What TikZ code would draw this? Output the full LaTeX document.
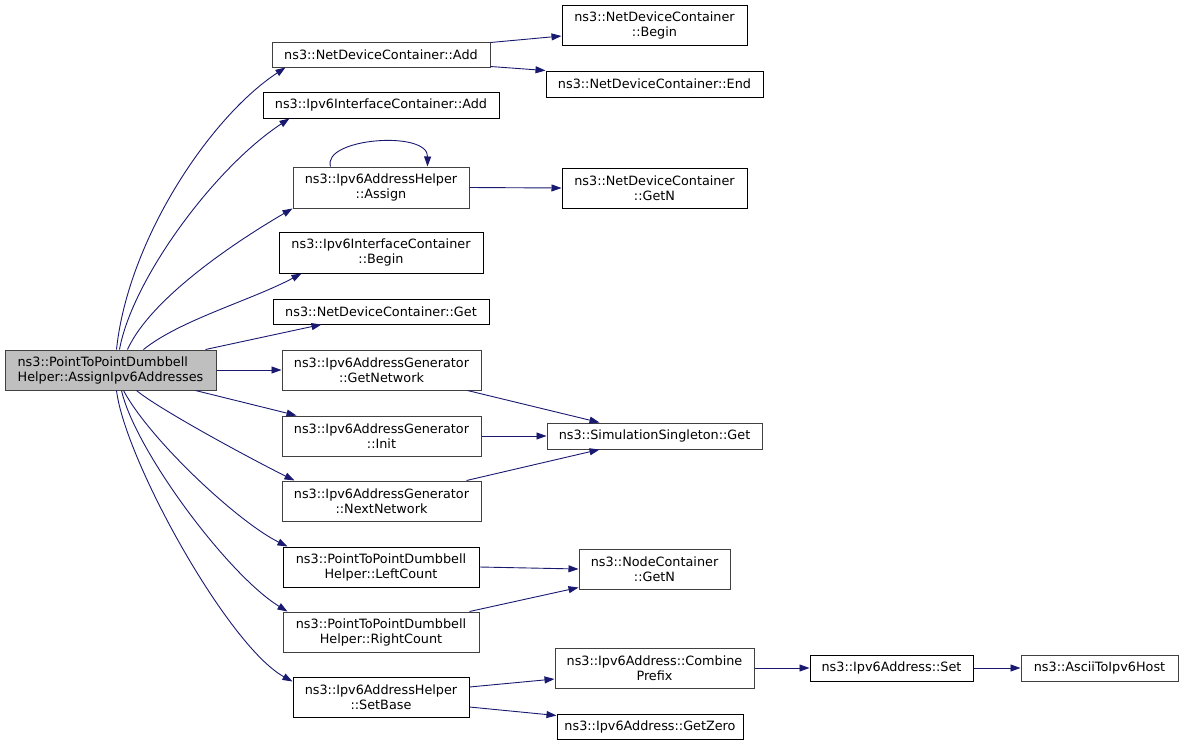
\documentclass[tikz,border=0pt]{standalone}
\usepackage{fontspec}
\setmainfont{DejaVu Sans}
\usetikzlibrary{arrows.meta,calc}
\definecolor{edgecol}{HTML}{191970}
\definecolor{bgray}{HTML}{404040}
\definecolor{mainfill}{HTML}{BFBFBF}
\begin{document}
\begin{tikzpicture}[x=1pt,y=-1pt,
  font=\fontsize{12.8}{15}\selectfont,
  box/.style={draw=black, line width=1pt, fill=white, inner sep=0pt, align=center},
  gbox/.style={box, draw=bgray},
  call/.style={draw=edgecol, line width=0.9pt, -{Triangle[length=10pt,width=7pt]}}]
\useasboundingbox (0,0) rectangle (1184,745);

% left column
\node[gbox, fill=mainfill, align=left, minimum width=211pt, minimum height=40pt] (main) at (110.5,370) {ns3::PointToPointDumbbell\\Helper::AssignIpv6Addresses};
\node[gbox, minimum width=218pt, minimum height=25pt] (add) at (381,54.5) {ns3::NetDeviceContainer::Add};
\node[box, minimum width=236pt, minimum height=26pt] (ifadd) at (381,105) {ns3::Ipv6InterfaceContainer::Add};
\node[gbox, minimum width=176pt, minimum height=41pt] (assign) at (381,187.5) {ns3::Ipv6AddressHelper\\::Assign};
\node[box, minimum width=204pt, minimum height=41pt] (ifbegin) at (381,252.5) {ns3::Ipv6InterfaceContainer\\::Begin};
\node[box, minimum width=216pt, minimum height=25pt] (ndget) at (381,311.5) {ns3::NetDeviceContainer::Get};
\node[gbox, minimum width=199pt, minimum height=40pt] (getnet) at (381.5,370) {ns3::Ipv6AddressGenerator\\::GetNetwork};
\node[gbox, minimum width=199pt, minimum height=40pt] (init) at (381.5,436) {ns3::Ipv6AddressGenerator\\::Init};
\node[gbox, minimum width=199pt, minimum height=40pt] (nextnet) at (381.5,501) {ns3::Ipv6AddressGenerator\\::NextNetwork};
\node[box, minimum width=196pt, minimum height=40pt] (left) at (381,567) {ns3::PointToPointDumbbell\\Helper::LeftCount};
\node[gbox, minimum width=196pt, minimum height=40pt] (right) at (381,632) {ns3::PointToPointDumbbell\\Helper::RightCount};
\node[box, minimum width=176pt, minimum height=40pt] (setbase) at (381,697) {ns3::Ipv6AddressHelper\\::SetBase};

% right column
\node[box, minimum width=185pt, minimum height=40pt] (ndbegin) at (654.5,25) {ns3::NetDeviceContainer\\::Begin};
\node[box, minimum width=217pt, minimum height=26pt] (ndend) at (654.5,84) {ns3::NetDeviceContainer::End};
\node[box, minimum width=185pt, minimum height=40pt] (ndgetn) at (654.5,188) {ns3::NetDeviceContainer\\::GetN};
\node[gbox, minimum width=215pt, minimum height=26pt] (sim) at (654.5,436) {ns3::SimulationSingleton::Get};
\node[gbox, minimum width=151pt, minimum height=40pt] (ncgetn) at (654.5,569) {ns3::NodeContainer\\::GetN};
\node[gbox, minimum width=199pt, minimum height=40pt] (combine) at (654.5,668) {ns3::Ipv6Address::Combine\\Prefix};
\node[box, minimum width=186pt, minimum height=25pt] (getzero) at (650,726.5) {ns3::Ipv6Address::GetZero};
\node[box, minimum width=163pt, minimum height=26pt] (set) at (891.5,668) {ns3::Ipv6Address::Set};
\node[gbox, minimum width=157pt, minimum height=26pt] (ascii) at (1099.5,668) {ns3::AsciiToIpv6Host};

% edges from main
\draw[call] ($(main.north west)+(112,0)$) .. controls (128,240) and (210,117) .. ($(add.south west)+(14,0)$);
\draw[call] ($(main.north west)+(115,0)$) .. controls (132,280) and (214,168) .. ($(ifadd.south west)+(27,0)$);
\draw[call] ($(main.north west)+(123,0)$) .. controls (150,300) and (230,245) .. (assign.south west);
\draw[call] ($(main.north west)+(139,0)$) .. controls (180,320) and (252,300) .. ($(ifbegin.south west)+(23,0)$);
\draw[call] ($(main.north east)+(-11,0)$) -- ($(ndget.south west)+(49,0)$);
\draw[call] (main.east) -- (getnet.west);
\draw[call] ($(main.south east)+(-21,0)$) -- ($(init.north west)+(15,0)$);
\draw[call] ($(main.south west)+(132,0)$) .. controls (160,410) and (255,461) .. ($(nextnet.north west)+(13,0)$);
\draw[call] ($(main.south west)+(119,0)$) .. controls (150,440) and (238,522) .. ($(left.north west)+(5,0)$);
\draw[call] ($(main.south west)+(117,0)$) .. controls (135,450) and (228,575) .. ($(right.north west)+(5,0)$);
\draw[call] ($(main.south west)+(112,0)$) .. controls (125,460) and (228,646) .. ($(setbase.north west)+(0,5)$);

% other edges
\draw[call] ($(add.north east)+(0,1)$) -- ($(ndbegin.west)+(0,11)$);
\draw[call] ($(add.south east)+(0,-1)$) -- (ndend.north west);
\draw[call] ($(assign.north west)+(38,0)$) .. controls (322,138) and (428,130) .. ($(assign.north west)+(135,0)$);
\draw[call] (assign.east) -- (ndgetn.west);
\draw[call] ($(getnet.south east)+(-14,0)$) -- ($(sim.north west)+(53,0)$);
\draw[call] (init.east) -- (sim.west);
\draw[call] ($(nextnet.north east)+(-15,0)$) -- ($(sim.south west)+(53,0)$);
\draw[call] (left.east) -- (ncgetn.west);
\draw[call] ($(right.north east)+(-10,0)$) -- ($(ncgetn.south west)+(0,-2)$);
\draw[call] ($(setbase.east)+(0,-10)$) -- ($(combine.west)+(0,11)$);
\draw[call] ($(setbase.east)+(0,10)$) -- ($(getzero.north west)+(0,2)$);
\draw[call] (combine.east) -- (set.west);
\draw[call] (set.east) -- (ascii.west);
\end{tikzpicture}
\end{document}
